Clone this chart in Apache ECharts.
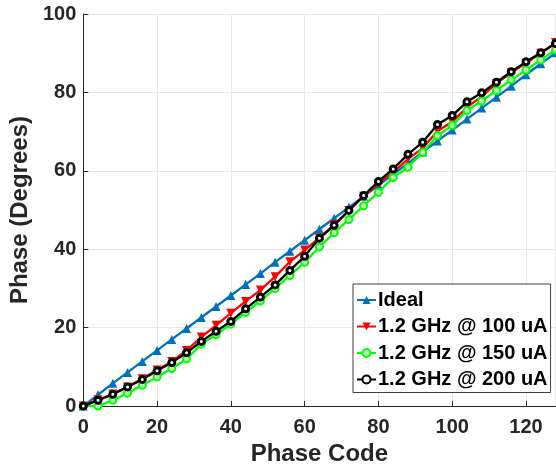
<!DOCTYPE html>
<html>
<head>
<meta charset="utf-8">
<script src="https://cdn.jsdelivr.net/npm/echarts@6/dist/echarts.min.js"></script>
<style>
html,body{margin:0;padding:0;background:#fff;}
#chart{width:556px;height:471px;}
</style>
</head>
<body>
<div id="chart"></div>
<script>
const codes = [0,4,8,12,16,20,24,28,32,36,40,44,48,52,56,60,64,68,72,76,80,84,88,92,96,100,104,108,112,116,120,124,128];
const ideal = [0,2.9,5.8,8.6,11.4,14.2,17.0,19.8,22.6,25.4,28.2,31.0,33.8,36.7,39.5,42.3,45.1,47.9,50.7,53.5,56.3,59.1,61.9,64.8,67.6,70.4,73.2,76.0,78.8,81.6,84.5,87.3,90.1];
const ua100 = [0,1.6,3.1,4.9,7.0,9.2,11.4,14.2,17.6,20.6,23.7,26.7,29.6,33.0,36.8,39.8,42.9,46.3,49.9,53.5,56.8,59.6,63.0,65.8,70.1,72.5,76.2,79.0,82.3,85.0,87.5,90.0,92.7];
const ua150 = [0,0.0,1.5,3.3,5.3,7.4,9.6,12.0,15.8,18.2,20.9,23.9,26.8,30.0,33.3,36.7,40.6,44.2,47.6,51.1,54.5,58.3,60.9,64.7,69.0,71.6,75.4,77.8,80.5,83.2,85.7,88.3,90.8];
const ua200 = [0,1.5,3.0,4.9,6.8,9.0,11.1,13.6,16.5,19.1,21.6,24.8,27.8,30.9,34.6,38.2,42.8,46.1,49.9,53.7,57.3,60.5,64.2,67.3,71.8,74.1,77.6,79.9,82.6,85.3,87.8,90.1,92.5];
const seriesNames = ['Ideal','1.2 GHz @ 100 uA','1.2 GHz @ 150 uA','1.2 GHz @ 200 uA'];
const xTitle = 'Phase Code';
const yTitle = 'Phase (Degrees)';

const pair = arr => codes.map((c,i)=>[c,arr[i]]);
const FONT = '"Liberation Sans", Arial, Helvetica, sans-serif';
const TXT = '#262626';

const chart = echarts.init(document.getElementById('chart'), null, {renderer:'canvas'});
chart.setOption({
  animation:false,
  backgroundColor:'#fff',
  textStyle:{fontFamily:FONT},
  grid:{left:80, right:0.5, top:14, bottom:62, containLabel:false},
  legend:{
    orient:'vertical', left:353, top:284,
    padding:[6,3,3,3], itemGap:6.5,
    itemWidth:19, itemHeight:10,
    backgroundColor:'#fff', borderColor:'#404040', borderWidth:1,
    textStyle:{fontFamily:FONT, fontWeight:'bold', fontSize:20, color:'#000', padding:[0,0,0,-3]},
    data:seriesNames
  },
  xAxis:{
    type:'value', min:0, max:128, interval:20,
    name:xTitle, nameLocation:'middle', nameGap:35,
    nameTextStyle:{fontFamily:FONT, fontWeight:'bold', fontSize:24, color:TXT},
    axisLine:{show:true, onZero:false, lineStyle:{color:TXT, width:1}},
    axisTick:{show:true, inside:true, length:5, lineStyle:{color:TXT}},
    axisLabel:{fontFamily:FONT, fontWeight:'bold', fontSize:20, color:TXT, margin:11, showMaxLabel:false},
    splitLine:{show:true, lineStyle:{color:'#e8e8e8', width:1}}
  },
  yAxis:{
    type:'value', min:0, max:100, interval:20,
    name:yTitle, nameLocation:'middle', nameGap:46,
    nameTextStyle:{fontFamily:FONT, fontWeight:'bold', fontSize:24, color:TXT},
    axisLine:{show:true, lineStyle:{color:TXT, width:1}},
    axisTick:{show:true, inside:true, length:5, lineStyle:{color:TXT}},
    axisLabel:{fontFamily:FONT, fontWeight:'bold', fontSize:20, color:TXT, margin:7},
    splitLine:{show:true, lineStyle:{color:'#e8e8e8', width:1}}
  },
  series:[
    {name:seriesNames[0], type:'line', data:pair(ideal), symbol:'triangle', symbolSize:9,
     lineStyle:{color:'#0072BD', width:2.3}, itemStyle:{color:'#0072BD'}, z:2},
    {name:seriesNames[1], type:'line', data:pair(ua100), symbol:'triangle', symbolRotate:180, symbolSize:9,
     lineStyle:{color:'#FF0000', width:2.3}, itemStyle:{color:'#FF0000'}, z:3},
    {name:seriesNames[2], type:'line', data:pair(ua150), symbol:'circle', symbolSize:7,
     lineStyle:{color:'#00FF00', width:2.3}, itemStyle:{color:'#b8ffb8', borderColor:'#00FF00', borderWidth:2}, z:4},
    {name:seriesNames[3], type:'line', data:pair(ua200), symbol:'circle', symbolSize:6,
     lineStyle:{color:'#000000', width:2.3}, itemStyle:{color:'#ffffff', borderColor:'#000000', borderWidth:3}, z:5}
  ]
});
</script>
</body>
</html>
